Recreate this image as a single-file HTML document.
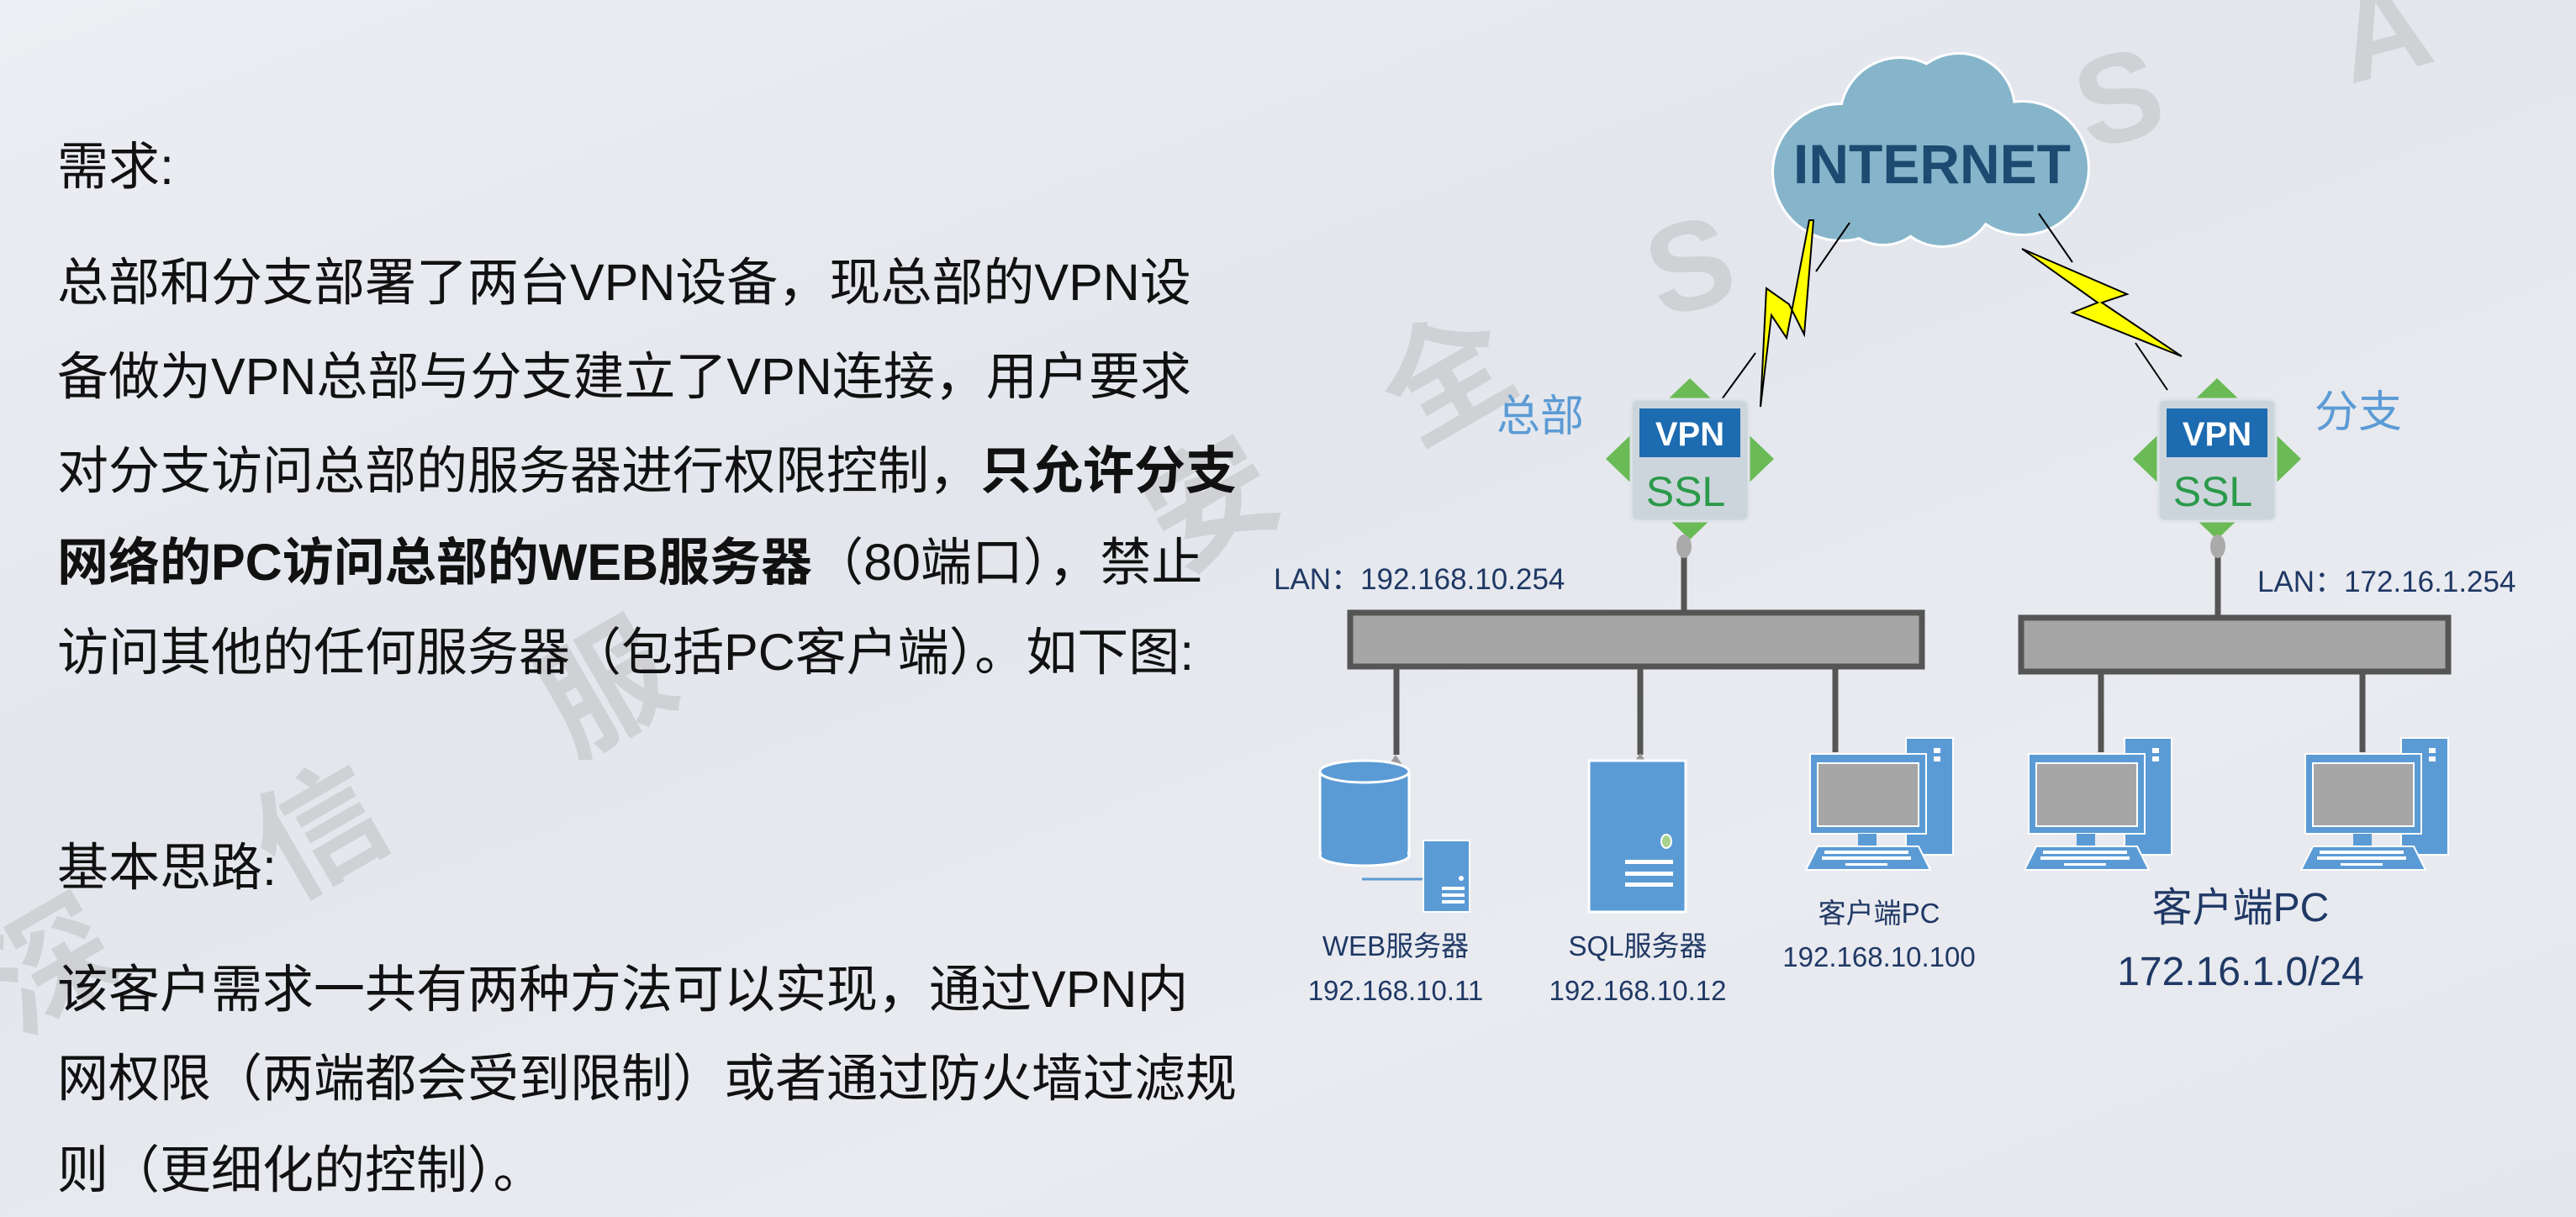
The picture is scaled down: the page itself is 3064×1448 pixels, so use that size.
<!DOCTYPE html>
<html><head><meta charset="utf-8"><style>
html,body{margin:0;padding:0}
body{width:3064px;height:1448px;overflow:hidden;position:relative;background:linear-gradient(160deg,#eceef3 0%,#e3e6ec 40%,#e9ebf0 70%,#e4e7ee 100%);font-family:"Liberation Sans","Noto Sans CJK SC",sans-serif}
.t{position:absolute;left:68px;font-size:61px;color:#111;white-space:nowrap;line-height:80px}
.wm{position:absolute;font-size:150px;font-weight:bold;color:rgba(170,170,170,0.35);font-family:"Liberation Sans","Noto Sans CJK SC",sans-serif}
svg{position:absolute;left:0;top:0}
</style></head><body>
<div class="wm" style="left:-20px;top:1030px;transform:rotate(-30deg)">深</div>
<div class="wm" style="left:300px;top:870px;transform:rotate(-30deg)">信</div>
<div class="wm" style="left:640px;top:700px;transform:rotate(-30deg)">服</div>
<div class="wm" style="left:1360px;top:480px;transform:rotate(-30deg)">安</div>
<div class="wm" style="left:1640px;top:330px;transform:rotate(-30deg)">全</div>
<div class="wm" style="left:1960px;top:230px;transform:rotate(-15deg)">S</div>
<div class="wm" style="left:2470px;top:30px;transform:rotate(-15deg)">S</div>
<div class="wm" style="left:2780px;top:-50px;transform:rotate(-15deg)">A</div>

<div class="t" style="top:158px">需求:</div>
<div class="t" style="top:296px">总部和分支部署了两台VPN设备，现总部的VPN设</div>
<div class="t" style="top:408px">备做为VPN总部与分支建立了VPN连接，用户要求</div>
<div class="t" style="top:520px">对分支访问总部的服务器进行权限控制，<b>只允许分支</b></div>
<div class="t" style="top:629px"><b>网络的PC访问总部的WEB服务器</b>（80端口），禁止</div>
<div class="t" style="top:736px">访问其他的任何服务器（包括PC客户端）。如下图:</div>
<div class="t" style="top:992px">基本思路:</div>
<div class="t" style="top:1137px">该客户需求一共有两种方法可以实现，通过VPN内</div>
<div class="t" style="top:1243px">网权限（两端都会受到限制）或者通过防火墙过滤规</div>
<div class="t" style="top:1352px">则（更细化的控制）。</div>

<svg width="3064" height="1448" viewBox="0 0 3064 1448" font-family="Liberation Sans, Noto Sans CJK SC, sans-serif">
<g fill="#86b5cb" stroke="#fff" stroke-width="6">
<circle cx="2190" cy="205" r="80"/><circle cx="2260" cy="140" r="70"/><circle cx="2330" cy="130" r="65"/><circle cx="2405" cy="200" r="78"/><circle cx="2310" cy="230" r="62"/><circle cx="2240" cy="235" r="55"/>
</g>
<g fill="#86b5cb">
<circle cx="2190" cy="205" r="80"/><circle cx="2260" cy="140" r="70"/><circle cx="2330" cy="130" r="65"/><circle cx="2405" cy="200" r="78"/><circle cx="2310" cy="230" r="62"/><circle cx="2240" cy="235" r="55"/>
</g>
<text x="2298" y="218" font-size="66" font-weight="bold" fill="#1c4a70" text-anchor="middle">INTERNET</text>
<g stroke="#000" stroke-width="2">
<line x1="2200" y1="265" x2="2160" y2="323"/><line x1="2088" y1="420" x2="2048" y2="475"/>
<line x1="2425" y1="254" x2="2465" y2="312"/><line x1="2540" y1="408" x2="2578" y2="464"/>
</g>
<polygon points="2157,262 2146,398 2128,362 2101,343 2094,484 2107,375 2125,402 2152,262" fill="#ffff00" stroke="#000" stroke-width="2"/>
<polygon points="2405,296 2530,350 2500,360 2595,424 2465,372 2495,360" fill="#ffff00" stroke="#000" stroke-width="2"/>
<g id="d1">
<polygon points="2010,450 2110,546 2010,642 1910,546" fill="#6aba55"/>
<rect x="1940" y="475" width="140" height="145" rx="8" fill="#cdd5dc" stroke="#dde3e8" stroke-width="3"/>
<rect x="1950" y="486" width="120" height="58" fill="#1d6bb0"/>
<text x="2010" y="530" font-size="40" font-weight="bold" fill="#fff" text-anchor="middle">VPN</text>
<text x="2005" y="602" font-size="50" fill="#2b9a4a" text-anchor="middle">SSL</text>
</g>
<use href="#d1" transform="translate(627,0)"/>
<text x="1780" y="513" font-size="52" fill="#5b9bd5">总部</text>
<text x="2753" y="508" font-size="52" fill="#5b9bd5">分支</text>
<text x="1515" y="701" font-size="35" fill="#1f3864">LAN：192.168.10.254</text>
<text x="2685" y="704" font-size="35" fill="#1f3864">LAN：172.16.1.254</text>
<g stroke="#555" stroke-width="7">
<line x1="2003" y1="650" x2="2003" y2="730"/><line x1="2638" y1="650" x2="2638" y2="736"/>
<line x1="1661" y1="795" x2="1661" y2="898"/><line x1="1951" y1="795" x2="1951" y2="898"/><line x1="2183" y1="795" x2="2183" y2="895"/>
<line x1="2499" y1="800" x2="2499" y2="895"/><line x1="2810" y1="800" x2="2810" y2="895"/>
</g>
<ellipse cx="2003" cy="650" rx="9" ry="14" fill="#aaa"/><ellipse cx="2638" cy="650" rx="9" ry="14" fill="#aaa"/>
<rect x="1606" y="729" width="680" height="64" fill="#a6a6a6" stroke="#555" stroke-width="7"/>
<rect x="2404" y="735" width="508" height="64" fill="#a6a6a6" stroke="#555" stroke-width="7"/>
<path d="M1660,898 l-8,12 h16z" fill="#999"/>
<rect x="1570" y="918" width="106" height="100" fill="#5b9bd5" stroke="#fff" stroke-width="3"/>
<ellipse cx="1623" cy="1018" rx="53" ry="12" fill="#5b9bd5" stroke="#fff" stroke-width="3"/>
<rect x="1572" y="918" width="102" height="100" fill="#5b9bd5"/>
<ellipse cx="1623" cy="918" rx="53" ry="13" fill="#5b9bd5" stroke="#fff" stroke-width="3"/>
<line x1="1620" y1="1046" x2="1692" y2="1046" stroke="#5b9bd5" stroke-width="3"/>
<rect x="1693" y="1000" width="55" height="85" fill="#5b9bd5" stroke="#fff" stroke-width="2"/>
<g fill="#fff"><rect x="1715" y="1055" width="27" height="4"/><rect x="1715" y="1063" width="27" height="4"/><rect x="1715" y="1071" width="27" height="4"/><circle cx="1738" cy="1045" r="3"/></g>
<path d="M1951,896 l-8,12 h16z" fill="#999"/>
<rect x="1890" y="905" width="115" height="180" fill="#5b9bd5" stroke="#fff" stroke-width="3"/>
<ellipse cx="1982" cy="1001" rx="6" ry="8" fill="#a9d18e" stroke="#fff" stroke-width="2"/>
<g fill="#fff"><rect x="1933" y="1023" width="57" height="5"/><rect x="1933" y="1037" width="57" height="5"/><rect x="1933" y="1050" width="57" height="5"/></g>
<g id="pc">
<rect x="2267" y="878" width="56" height="139" fill="#5b9bd5" stroke="#fff" stroke-width="2"/>
<rect x="2300" y="890" width="8" height="6" fill="#fff"/><rect x="2300" y="900" width="8" height="6" fill="#fff"/>
<rect x="2153" y="897" width="138" height="95" fill="#5b9bd5" stroke="#fff" stroke-width="2"/>
<rect x="2162" y="908" width="120" height="75" fill="#a6a6a6" stroke="#fff" stroke-width="2"/>
<rect x="2210" y="992" width="22" height="14" fill="#5b9bd5"/>
<polygon points="2162,1007 2282,1007 2296,1035 2148,1035" fill="#5b9bd5" stroke="#fff" stroke-width="2"/>
<g fill="#fff"><rect x="2170" y="1012" width="100" height="4"/><rect x="2167" y="1019" width="106" height="4"/><rect x="2195" y="1027" width="50" height="3"/></g>
</g>
<use href="#pc" transform="translate(260,0)"/>
<use href="#pc" transform="translate(589,0)"/>
<g fill="#1f3864" text-anchor="middle">
<text x="1660" y="1137" font-size="33">WEB服务器</text>
<text x="1660" y="1190" font-size="33">192.168.10.11</text>
<text x="1948" y="1137" font-size="33">SQL服务器</text>
<text x="1948" y="1190" font-size="33">192.168.10.12</text>
<text x="2235" y="1098" font-size="33">客户端PC</text>
<text x="2235" y="1150" font-size="33">192.168.10.100</text>
<text x="2665" y="1096" font-size="48">客户端PC</text>
<text x="2665" y="1172" font-size="48">172.16.1.0/24</text>
</g>
</svg>
</body></html>
